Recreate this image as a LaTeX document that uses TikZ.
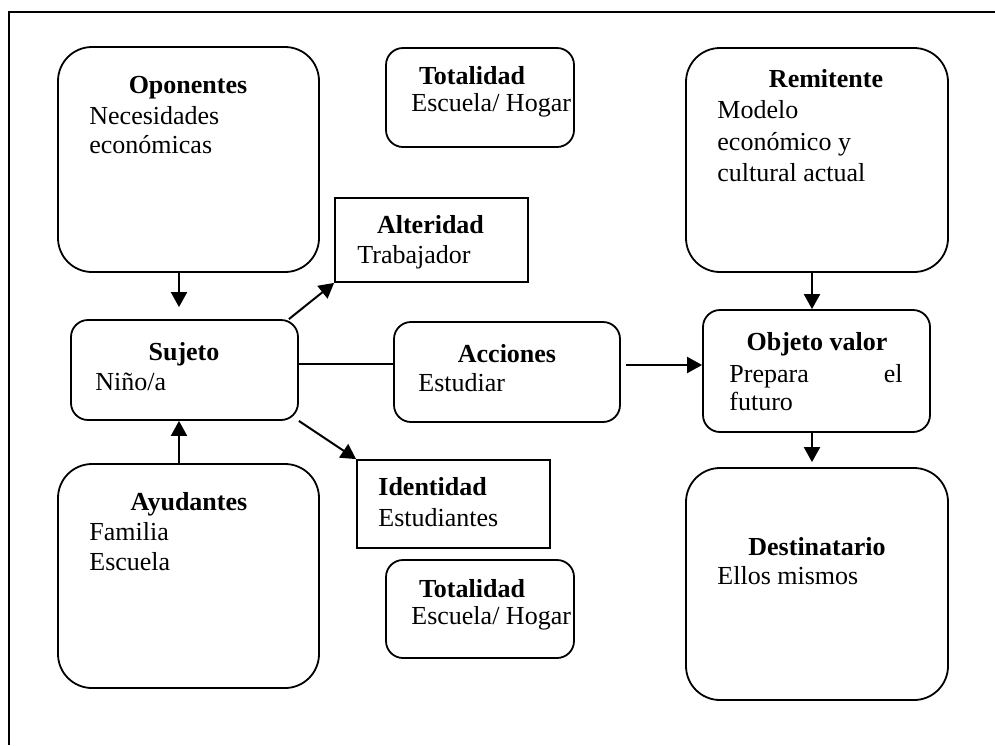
\documentclass[tikz,border=0pt]{standalone}
\usepackage{fontspec}
\setmainfont{Liberation Serif}
\usetikzlibrary{arrows.meta}
\begin{document}
\begin{tikzpicture}[x=0.5pt,y=-0.5pt,
  card/.style={draw, line width=0.9pt, inner sep=0pt},
  soft/.style={card, rounded corners=8.5pt},
  big/.style={card, rounded corners=17pt},
  plain/.style={card},
  head/.style={inner sep=0pt, anchor=base, font=\fontsize{13}{15}\selectfont\bfseries},
  headl/.style={inner sep=0pt, anchor=base west, font=\fontsize{13}{15}\selectfont\bfseries},
  body/.style={inner sep=0pt, anchor=base west, font=\fontsize{13}{15}\selectfont},
  bodyr/.style={inner sep=0pt, anchor=base east, font=\fontsize{13}{15}\selectfont},
  link/.style={line width=1pt},
  arrow/.style={link, -{Triangle[length=7.5pt,width=8pt]}}]
\useasboundingbox (0,0) rectangle (995,745);

% page frame (open at bottom and right)
\coordinate (fa) at (9,745);
\coordinate (fb) at (9,12);
\coordinate (fc) at (995,12);
\draw[line width=1pt] (fa) -- (fb) -- (fc);

% boxes
\node[big,   minimum width=130.5pt, minimum height=112.5pt] (opo)  at (188.5,159.5) {};
\node[soft,  minimum width=94pt,    minimum height=49.5pt]  (tot1) at (480,97.5) {};
\node[big,   minimum width=131pt,   minimum height=112pt]   (rem)  at (817,160) {};
\node[plain, minimum width=96.5pt,  minimum height=42pt]    (alt)  at (431.5,240) {};
\node[soft,  minimum width=113.5pt, minimum height=50pt]    (suj)  at (184.5,370) {};
\node[soft,  minimum width=113pt,   minimum height=50pt]    (acc)  at (507,372) {};
\node[soft,  minimum width=113.5pt, minimum height=61pt]    (obj)  at (816.5,371) {};
\node[plain, minimum width=96.5pt,  minimum height=44pt]    (ide)  at (453.5,504) {};
\node[big,   minimum width=130.5pt, minimum height=112pt]   (ayu)  at (188.5,576) {};
\node[soft,  minimum width=94pt,    minimum height=49pt]    (tot2) at (480,609) {};
\node[big,   minimum width=131pt,   minimum height=116pt]   (des)  at (817,584) {};

% texts
\node[head] (opoH) at (188,93) {Oponentes};
\node[body] (opo1) at (89,124) {Necesidades};
\node[body] (opo2) at (89,153) {económicas};

\node[head] (tot1H) at (472,84) {Totalidad};
\node[body] (tot11) at (411,111) {Escuela/ Hogar};

\node[head] (remH) at (826,87) {Remitente};
\node[body] (rem1) at (717,118) {Modelo};
\node[body] (rem2) at (717,150) {económico y};
\node[body] (rem3) at (717,181) {cultural actual};

\node[head] (altH) at (430.5,233) {Alteridad};
\node[body] (alt1) at (357,263) {Trabajador};

\node[head] (sujH) at (184,360) {Sujeto};
\node[body] (suj1) at (95,390) {Niño/a};

\node[head] (accH) at (507,362) {Acciones};
\node[body] (acc1) at (418,391) {Estudiar};

\node[head]  (objH) at (817,350) {Objeto valor};
\node[body]  (obj1) at (729,382) {Prepara};
\node[bodyr] (obj2) at (903,382) {el};
\node[body]  (obj3) at (729,410) {futuro};

\node[headl] (ideH) at (378,495) {Identidad};
\node[body]  (ide1) at (378,526) {Estudiantes};

\node[head] (ayuH) at (189,510) {Ayudantes};
\node[body] (ayu1) at (89,540) {Familia};
\node[body] (ayu2) at (89,570) {Escuela};

\node[head] (tot2H) at (472,597) {Totalidad};
\node[body] (tot21) at (411,624) {Escuela/ Hogar};

\node[head] (desH) at (817,555) {Destinatario};
\node[body] (des1) at (717,584) {Ellos mismos};

% connectors
\draw[arrow, shorten >=6pt] ([xshift=-2.75pt]suj.north |- opo.south) -- ([xshift=-2.75pt]suj.north);
\draw[arrow] ([xshift=-2.75pt]suj.south |- ayu.north) -- ([xshift=-2.75pt]suj.south);
\draw[arrow] ([xshift=-5pt]suj.north east) -- (alt.south west);
\draw[arrow] (suj.south east) -- (ide.north west);
\draw[link] ([yshift=3pt]suj.east) -- ([yshift=3pt]suj.east -| acc.west);
\coordinate (oin) at ([yshift=3pt]obj.west);
\draw[arrow] ([xshift=2.5pt]acc.east |- oin) -- (oin);
\draw[arrow] ([xshift=-2.25pt]obj.north |- rem.south) -- ([xshift=-2.25pt]obj.north);
\draw[arrow, shorten >=2.5pt] ([xshift=-2.25pt]obj.south) -- ([xshift=-2.25pt]obj.south |- des.north);
\end{tikzpicture}
\end{document}
